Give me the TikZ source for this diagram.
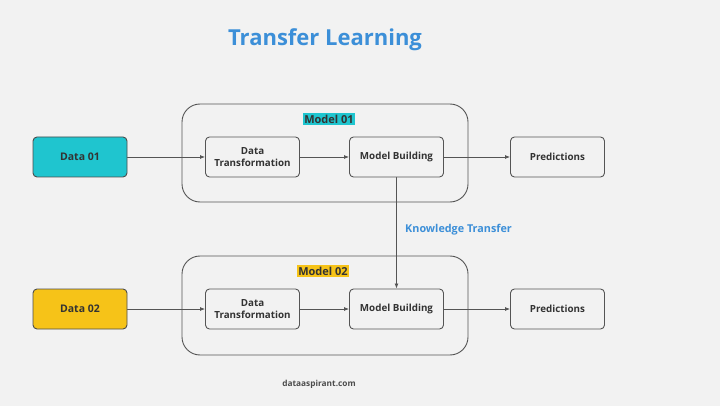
\documentclass[tikz,border=0pt]{standalone}
\usepackage{fontspec}
\setmainfont{Open Sans}
\usetikzlibrary{arrows.meta,positioning}
\definecolor{bgcol}{HTML}{F2F2F2}
\definecolor{titleblue}{HTML}{3C8FD8}
\definecolor{cyanfill}{HTML}{1FC5CF}
\definecolor{yellowfill}{HTML}{F6C318}
\definecolor{linecol}{HTML}{555555}
\tikzset{
  stepbox/.style={draw=linecol, rounded corners=4pt, line width=0.9pt, minimum width=94pt, minimum height=40pt, align=center, font=\bfseries\fontsize{9.8}{11.5}\selectfont, text=black!80, fill=bgcol},
  databox/.style={stepbox, draw=black!70, font=\bfseries\fontsize{10.5}{12}\selectfont},
  container/.style={draw=linecol, rounded corners=18pt, line width=0.9pt},
  flow/.style={draw=linecol, line width=0.8pt, -{Latex[length=5pt,width=4pt]}},
  tag/.style={font=\bfseries\fontsize{11}{13}\selectfont, text=black!80, inner sep=1.5pt}
}
\begin{document}
\begin{tikzpicture}[x=1pt, y=-1pt, line join=round, line cap=round]
  \fill[bgcol] (0,0) rectangle (720,406);
  \useasboundingbox (0,0) rectangle (720,406);
  \node[font=\bfseries\fontsize{22}{26}\selectfont, text=titleblue] (title) at (325,40) {Transfer Learning};
  % containers
  \draw[container] (182,104) rectangle (468,202);
  \draw[container] (182,256) rectangle (468,355);
  \node[tag, fill=cyanfill] (tag1) at (329,119) {Model 01};
  \node[tag, fill=yellowfill] (tag2) at (323,271) {Model 02};
  % first row
  \node[databox, fill=cyanfill] (data1) at (80,157) {Data 01};
  \node[stepbox] (dt1) at (252.5,157) {Data\\Transformation};
  \node[stepbox] (mb1) at (396.5,157) {Model Building};
  \node[stepbox] (pr1) at (557.5,157) {Predictions};
  % second row
  \node[databox, fill=yellowfill] (data2) at (80,309) {Data 02};
  \node[stepbox] (dt2) at (252.5,309) {Data\\Transformation};
  \node[stepbox] (mb2) at (396.5,309) {Model Building};
  \node[stepbox] (pr2) at (557.5,309) {Predictions};
  \draw[flow] (data1) -- (dt1);
  \draw[flow] (dt1) -- (mb1);
  \draw[flow] (mb1) -- (pr1);
  \draw[flow] (data2) -- (dt2);
  \draw[flow] (dt2) -- (mb2);
  \draw[flow] (mb2) -- (pr2);
  \draw[flow] (mb1) -- (mb2) node[pos=0.47, right=5pt, font=\bfseries\fontsize{10.8}{13}\selectfont, text=titleblue] (kt) {Knowledge Transfer};
  \node[font=\bfseries\fontsize{8.3}{10}\selectfont, text=black!70] (site) at (319,384) {dataaspirant.com};
\end{tikzpicture}
\end{document}
